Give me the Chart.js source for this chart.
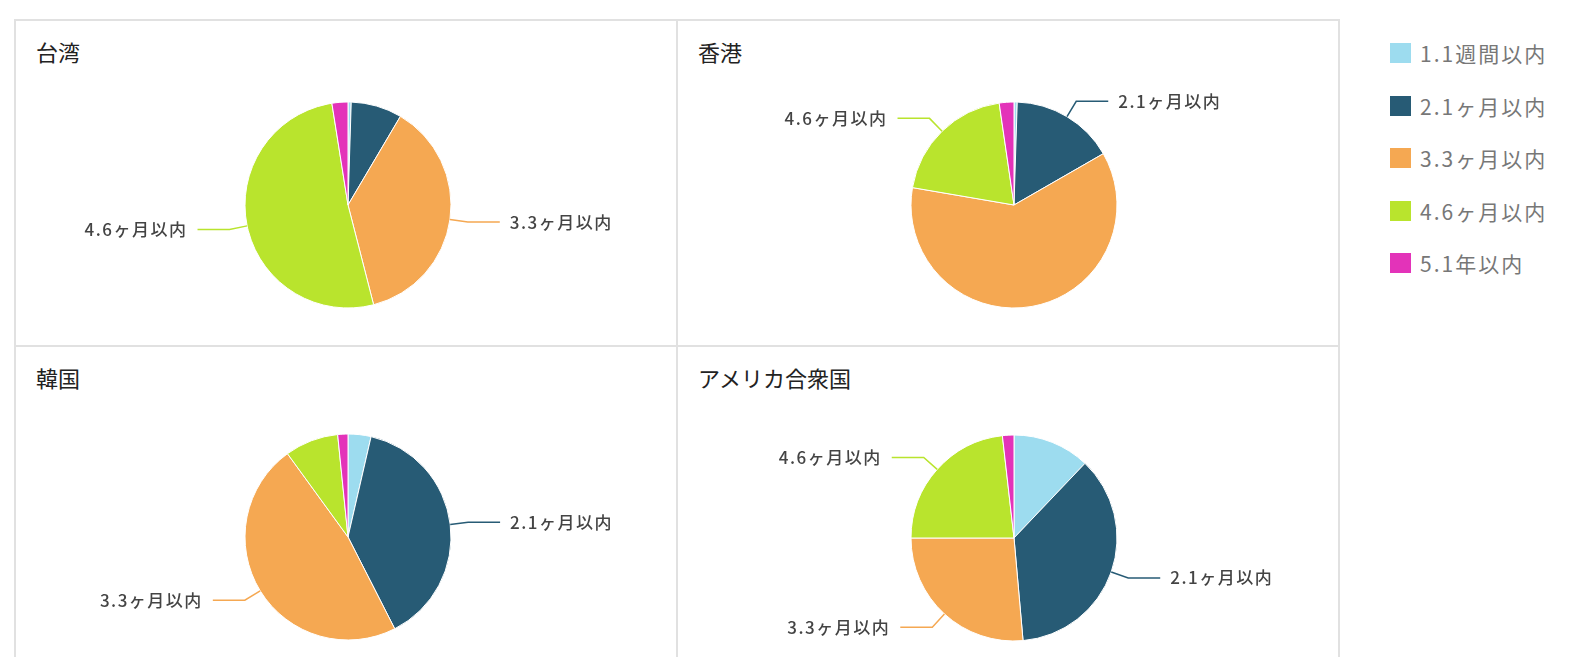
<!DOCTYPE html>
<html lang="ja">
<head>
<meta charset="utf-8">
<title>購入からの期間</title>
<script src="https://cdn.jsdelivr.net/npm/chart.js@4/dist/chart.umd.min.js"></script>
<style>
  html, body { margin: 0; padding: 0; background: #fff; overflow: hidden; }
  body { width: 1574px; height: 657px; position: relative; font-family: "Noto Sans CJK JP", "Noto Sans", sans-serif; }
  .cell { position: absolute; box-sizing: border-box; border: 2px solid #e1e1e1; width: 664px; height: 328px; }
  .cell .name { position: absolute; left: 20px; top: 14px; font-size: 22px; color: #222; }
  .cell .wrap { position: absolute; inset: 0; }
  #legend { position: absolute; left: 1390px; top: 27px; }
  #legend .row { display: flex; align-items: center; height: 52.5px; font-size: 21px; letter-spacing: 2px; color: #777; }
  #legend .sw { width: 21px; height: 20px; margin-right: 9px; }
</style>
</head>
<body>
<div class="cell" style="left:14px;top:19px"><div class="name">台湾</div><div class="wrap"><canvas id="c0"></canvas></div></div>
<div class="cell" style="left:676px;top:19px"><div class="name">香港</div><div class="wrap"><canvas id="c1"></canvas></div></div>
<div class="cell" style="left:14px;top:345px"><div class="name">韓国</div><div class="wrap"><canvas id="c2"></canvas></div></div>
<div class="cell" style="left:676px;top:345px"><div class="name">アメリカ合衆国</div><div class="wrap"><canvas id="c3"></canvas></div></div>
<div id="legend"></div>

<script>
// categories shared by all four pies
const periods = ["1.1週間以内", "2.1ヶ月以内", "3.3ヶ月以内", "4.6ヶ月以内", "5.1年以内"];
const colors = ["#9ddcef", "#275b75", "#f5a852", "#b9e42d", "#e333b9"];

// share of each period (%) per region
const taiwan = [0.5, 8, 37.5, 51.5, 2.5];
const hongkong = [0.5, 16.2, 61, 20, 2.3];
const korea = [3.6, 38.9, 47.5, 8.4, 1.6];
const usa = [12.1, 36.5, 26.4, 23.2, 1.8];

// which slices get a callout label
const taiwanCallouts = [2, 3];
const hongkongCallouts = [1, 3];
const koreaCallouts = [1, 2];
const usaCallouts = [1, 2, 3];

// legend
const legend = document.getElementById("legend");
periods.forEach((p, i) => {
  const row = document.createElement("div");
  row.className = "row";
  row.innerHTML = `<span class="sw" style="background:${colors[i]}"></span>${p}`;
  legend.appendChild(row);
});

// draws leader lines + labels outside the pie
const callouts = {
  id: "callouts",
  afterDraw(chart) {
    const ctx = chart.ctx;
    const shown = chart.options.plugins.callouts.slices;
    const meta = chart.getDatasetMeta(0);
    ctx.save();
    shown.forEach(i => {
      const arc = meta.data[i];
      const mid = (arc.startAngle + arc.endAngle) / 2;
      const r = arc.outerRadius;
      const x0 = arc.x + Math.cos(mid) * r, y0 = arc.y + Math.sin(mid) * r;
      const x1 = arc.x + Math.cos(mid) * (r + 18), y1 = arc.y + Math.sin(mid) * (r + 18);
      const dir = Math.cos(mid) >= 0 ? 1 : -1;
      const x2 = x1 + dir * 32;
      ctx.strokeStyle = colors[i];
      ctx.lineWidth = 1.5;
      ctx.beginPath();
      ctx.moveTo(x0, y0);
      ctx.lineTo(x1, y1);
      ctx.lineTo(x2, y1);
      ctx.stroke();
      ctx.fillStyle = "#444";
      ctx.font = '500 17px "Noto Sans CJK JP", sans-serif';
      ctx.letterSpacing = "1.5px";
      ctx.textAlign = dir > 0 ? "left" : "right";
      ctx.textBaseline = "middle";
      ctx.fillText(chart.data.labels[i], x2 + dir * 10, y1);
    });
    ctx.restore();
  }
};

function makePie(id, values, slices, padLeft, padTop) {
  new Chart(document.getElementById(id), {
    type: "pie",
    data: {
      labels: periods,
      datasets: [{
        data: values,
        backgroundColor: colors,
        borderColor: "#fff",
        borderWidth: 1
      }]
    },
    options: {
      responsive: true,
      maintainAspectRatio: false,
      animation: false,
      radius: 103,
      layout: { padding: { top: padTop, bottom: 8, left: padLeft, right: 0 } },
      plugins: {
        legend: { display: false },
        tooltip: { enabled: false },
        callouts: { slices: slices }
      }
    },
    plugins: [callouts]
  });
}

makePie("c0", taiwan, taiwanCallouts, 4, 52);
makePie("c1", hongkong, hongkongCallouts, 12, 52);
makePie("c2", korea, koreaCallouts, 4, 64);
makePie("c3", usa, usaCallouts, 12, 66);
</script>
</body>
</html>
